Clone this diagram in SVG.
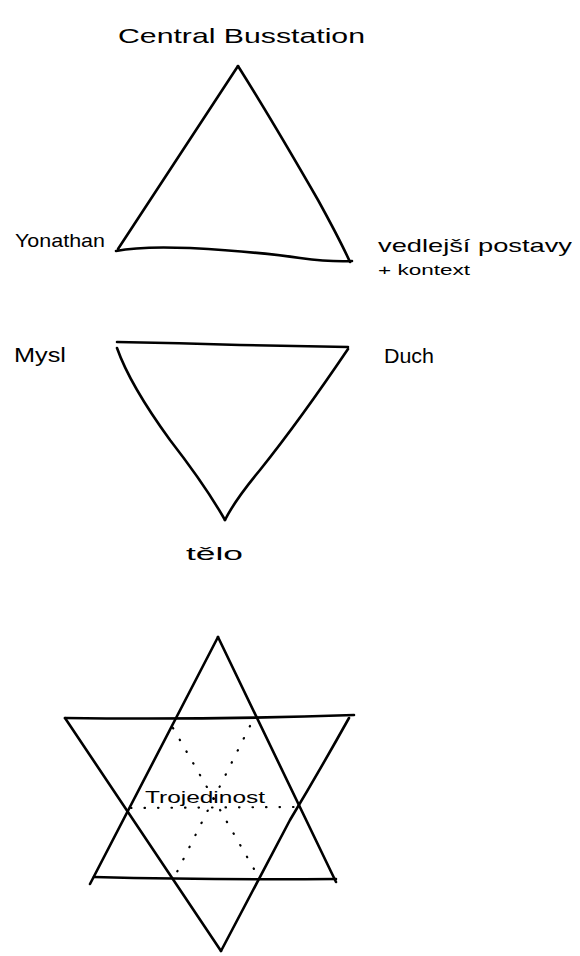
<svg xmlns="http://www.w3.org/2000/svg" width="580" height="956" viewBox="0 0 580 956">
<style>
.ln{fill:none;stroke:#000;stroke-width:2.6;stroke-linecap:round;stroke-linejoin:round}
.dot{fill:none;stroke:#000;stroke-width:2.2;stroke-linecap:round;stroke-dasharray:0.5 13}
.t{font-family:"Liberation Sans","DejaVu Sans",sans-serif;fill:#000}
</style>
<rect width="580" height="956" fill="#fff"/>
<g id="triangle-top">
<path class="ln" d="M238,66 Q272,120 318,200 Q340,240 350,262"/>
<path class="ln" d="M238,66 Q180,155 118,249"/>
<path class="ln" d="M116,251 Q140,246 190,248 Q260,252 300,258 Q330,262 352,261"/>
<text class="t" x="118" y="43" font-size="21" textLength="247" lengthAdjust="spacingAndGlyphs">Central Busstation</text>
<text class="t" x="15" y="247" font-size="19" textLength="90" lengthAdjust="spacingAndGlyphs">Yonathan</text>
<text class="t" x="378" y="252" font-size="19" textLength="194" lengthAdjust="spacingAndGlyphs">vedlejší postavy</text>
<text class="t" x="378" y="275" font-size="15" textLength="92" lengthAdjust="spacingAndGlyphs">+ kontext</text>
</g>
<g id="triangle-middle">
<path class="ln" d="M117,342 Q180,343 240,345 Q300,346 348,347"/>
<path class="ln" d="M117,348 Q130,385 170,440 Q205,485 225,520"/>
<path class="ln" d="M348,349 Q300,420 260,470 Q235,500 225,520"/>
<text class="t" x="14" y="362" font-size="20" textLength="52" lengthAdjust="spacingAndGlyphs">Mysl</text>
<text class="t" x="384" y="363" font-size="20" textLength="50" lengthAdjust="spacingAndGlyphs">Duch</text>
<text class="t" x="186" y="560" font-size="18" textLength="57" lengthAdjust="spacingAndGlyphs">tělo</text>
</g>
<g id="star">
<path class="ln" d="M218,637 L90,884"/>
<path class="ln" d="M218,637 L336,882"/>
<path class="ln" d="M94,877 Q210,880 336,879"/>
<path class="ln" d="M65,718 Q210,720 354,715"/>
<path class="ln" d="M65,718 L221,951"/>
<path class="ln" d="M349,718 Q320,770 290,820 L221,951"/>
<path class="dot" d="M173,728 L258,876"/>
<path class="dot" d="M250,726 L175,876"/>
<path class="dot" d="M131,808 L296,807"/>
<text class="t" x="145" y="803" font-size="16" textLength="120" lengthAdjust="spacingAndGlyphs">Trojedinost</text>
</g>
</svg>
